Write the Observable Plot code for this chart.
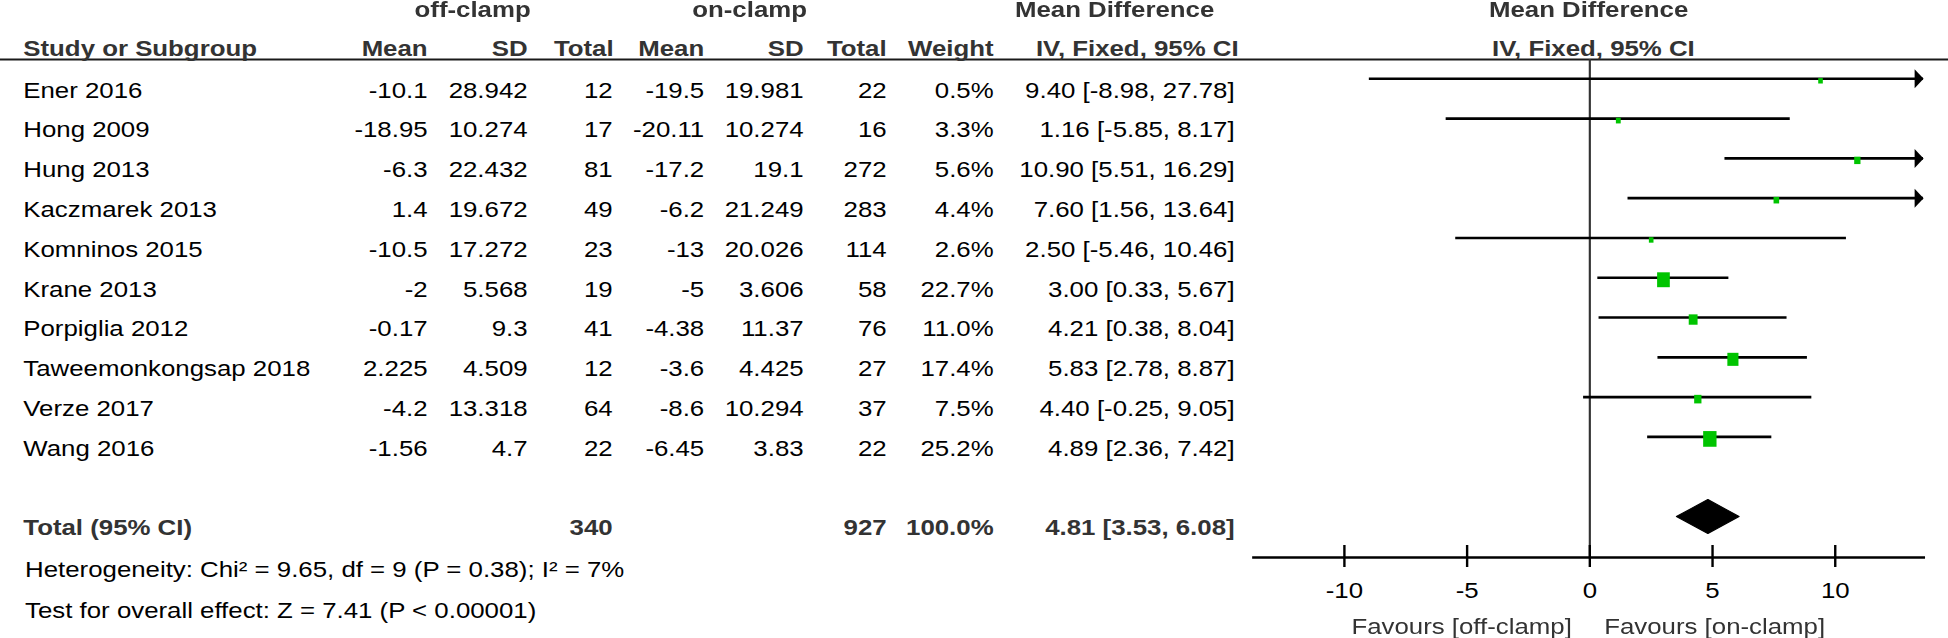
<!DOCTYPE html>
<html>
<head>
<meta charset="utf-8">
<script src="https://cdn.jsdelivr.net/npm/d3@7"></script>
<script src="https://cdn.jsdelivr.net/npm/@observablehq/plot@0.6"></script>
<style>
  html, body { margin: 0; padding: 0; background: #fff; }
  #chart { width: 1623px; height: 638px; transform-origin: 0 0; }
</style>
</head>
<body>
<div id="chart"></div>
<script>
// ---------- data ----------
const studies = ["Ener 2016", "Hong 2009", "Hung 2013", "Kaczmarek 2013", "Komninos 2015",
  "Krane 2013", "Porpiglia 2012", "Taweemonkongsap 2018", "Verze 2017", "Wang 2016"];
const offMean = [-10.1, -18.95, -6.3, 1.4, -10.5, -2, -0.17, 2.225, -4.2, -1.56];
const offSD = [28.942, 10.274, 22.432, 19.672, 17.272, 5.568, 9.3, 4.509, 13.318, 4.7];
const offN = [12, 17, 81, 49, 23, 19, 41, 12, 64, 22];
const onMean = [-19.5, -20.11, -17.2, -6.2, -13, -5, -4.38, -3.6, -8.6, -6.45];
const onSD = [19.981, 10.274, 19.1, 21.249, 20.026, 3.606, 11.37, 4.425, 10.294, 3.83];
const onN = [22, 16, 272, 283, 114, 58, 76, 27, 37, 22];
const weight = [0.5, 3.3, 5.6, 4.4, 2.6, 22.7, 11.0, 17.4, 7.5, 25.2];
const md = [9.40, 1.16, 10.90, 7.60, 2.50, 3.00, 4.21, 5.83, 4.40, 4.89];
const ciLo = [-8.98, -5.85, 5.51, 1.56, -5.46, 0.33, 0.38, 2.78, -0.25, 2.36];
const ciHi = [27.78, 8.17, 16.29, 13.64, 10.46, 5.67, 8.04, 8.87, 9.05, 7.42];

const totalLabel = "Total (95% CI)";
const totalOffN = 340;
const totalOnN = 927;
const totalWeight = 100.0;
const totalMD = 4.81, totalLo = 3.53, totalHi = 6.08;

const heterogeneity = "Heterogeneity: Chi\u00B2 = 9.65, df = 9 (P = 0.38); I\u00B2 = 7%";
const overallTest = "Test for overall effect: Z = 7.41 (P < 0.00001)";
const groupHeaders = ["off-clamp", "on-clamp", "Mean Difference"];
const columnHeaders = ["Study or Subgroup", "Mean", "SD", "Total", "Mean", "SD", "Total", "Weight", "IV, Fixed, 95% CI"];
const plotHeaders = ["Mean Difference", "IV, Fixed, 95% CI"];
const favours = ["Favours [off-clamp]", "Favours [on-clamp]"];
const xTicks = [-10, -5, 0, 5, 10];
const xDomain = [-13.7, 13.6];

// ---------- layout (pixels of the 1948-wide picture) ----------
const W = 1623, H = 638, S = 1948 / W;
document.getElementById("chart").style.transform = `scaleX(${S})`;
const ML = 1253 / S, MR = W - 1923 / S, MT = 59, MB = H - 557;
const dxOf = px => px / S - ML;
const colPx = [22.7, 427, 527, 612, 703.6, 803, 886, 993, 1234];
const headPx = [22.7, 427, 527, 613, 703.6, 803, 886, 993, 1238];
const groupPx = [472, 749, 1114];
const TXT_DY = 12;
const hdrColor = "#333";
const green = "#00c400";

const rows = studies.map((study, i) => ({
  i, study, offMean: offMean[i], offSD: offSD[i], offN: offN[i],
  onMean: onMean[i], onSD: onSD[i], onN: onN[i], weight: weight[i],
  md: md[i], lo: ciLo[i], hi: ciHi[i]
}));
const totalIndex = studies.length + 1;
const fmtCI = (m, l, h) => `${m.toFixed(2)} [${l.toFixed(2)}, ${h.toFixed(2)}]`;

const cellGetters = [
  d => d.study, d => String(d.offMean), d => String(d.offSD), d => String(d.offN),
  d => String(d.onMean), d => String(d.onSD), d => String(d.onN),
  d => d.weight.toFixed(1) + "%", d => fmtCI(d.md, d.lo, d.hi)
];

const boxSymbol = {
  draw(ctx, size) {
    const r = Math.sqrt(size / Math.PI), w = r * 0.71;
    ctx.moveTo(-w, -r); ctx.lineTo(w, -r); ctx.lineTo(w, r); ctx.lineTo(-w, r); ctx.closePath();
  }
};
const arrowSymbol = {
  draw(ctx) {
    ctx.moveTo(0, 0); ctx.lineTo(-7.5, -9.5); ctx.lineTo(-7.5, 9.5); ctx.closePath();
  }
};

const diamond = [[totalLo, 0], [totalMD, -1], [totalHi, 0], [totalMD, 1], [totalLo, 0]]
  .map(([x, k]) => ({x, y: totalIndex + k * 0.427}));

// ---------- marks ----------
const marks = [];
// header rule (full width) and axis line
marks.push(Plot.frame({anchor: "top", insetLeft: -ML, insetRight: -MR, stroke: "#1a1a1a", strokeWidth: 2}));
marks.push(Plot.ruleX([0], {stroke: "#333", strokeWidth: 1.8}));
marks.push(Plot.frame({anchor: "bottom", stroke: "#000", strokeWidth: 2.4}));
marks.push(Plot.ruleX(xTicks, {insetTop: 545 - MT, stroke: "#000", strokeWidth: 2}));
marks.push(Plot.axisX({ticks: xTicks, tickSize: 10, tickPadding: 15, strokeWidth: 2,
  tickFormat: d => String(d), fill: "#000"}));

// CI lines, markers, arrows, diamond
marks.push(Plot.ruleY(rows, {y: "i", x1: "lo", x2: "hi", clip: true, stroke: "#000", strokeWidth: 2.6}));
marks.push(Plot.dot(rows, {x: "md", y: "i", r: d => Math.max(d.weight, 3), symbol: boxSymbol,
  fill: green, stroke: "none", dy: 2}));
marks.push(Plot.dot(rows.filter(d => d.hi > xDomain[1]), {x: () => xDomain[1], y: "i",
  symbol: arrowSymbol, fill: "#000", stroke: "none"}));
marks.push(Plot.line(diamond, {x: "x", y: "y", fill: "#000", stroke: "#000", strokeWidth: 1}));

// table cells
cellGetters.forEach((get, c) => {
  marks.push(Plot.text(rows, {y: "i", text: get, frameAnchor: "left", dx: dxOf(colPx[c]), dy: TXT_DY,
    textAnchor: c === 0 ? "start" : "end", lineAnchor: "middle", fill: "#000"}));
});

// total row
const totalCells = [[0, totalLabel], [3, String(totalOffN)], [6, String(totalOnN)],
  [7, totalWeight.toFixed(1) + "%"], [8, fmtCI(totalMD, totalLo, totalHi)]];
totalCells.forEach(([c, t]) => {
  marks.push(Plot.text([t], {y: () => totalIndex, text: d => d, frameAnchor: "left", dx: dxOf(colPx[c]), dy: TXT_DY,
    textAnchor: c === 0 ? "start" : "end", lineAnchor: "middle", fontWeight: "bold", fill: hdrColor}));
});

// headers
groupHeaders.forEach((t, g) => {
  marks.push(Plot.text([t], {text: d => d, frameAnchor: "top-left", dx: dxOf(groupPx[g]), dy: 10 - MT,
    textAnchor: "middle", lineAnchor: "middle", fontWeight: "bold", fill: hdrColor}));
});
columnHeaders.forEach((t, c) => {
  marks.push(Plot.text([t], {text: d => d, frameAnchor: "top-left", dx: dxOf(headPx[c]), dy: 48.5 - MT,
    textAnchor: c === 0 ? "start" : "end", lineAnchor: "middle", fontWeight: "bold", fill: hdrColor}));
});
marks.push(Plot.text([plotHeaders[0]], {text: d => d, frameAnchor: "top", dy: 10 - MT,
  lineAnchor: "middle", fontWeight: "bold", fill: hdrColor}));
marks.push(Plot.text([plotHeaders[1]], {text: d => d, frameAnchor: "top", dy: 48.5 - MT, dx: 4,
  lineAnchor: "middle", fontWeight: "bold", fill: hdrColor}));

// footer
marks.push(Plot.text([heterogeneity], {text: d => d, frameAnchor: "bottom-left", dx: dxOf(24.5), dy: 570 - 557,
  textAnchor: "start", lineAnchor: "middle", fill: "#000"}));
marks.push(Plot.text([overallTest], {text: d => d, frameAnchor: "bottom-left", dx: dxOf(24.5), dy: 611 - 557,
  textAnchor: "start", lineAnchor: "middle", fill: "#000"}));
marks.push(Plot.text([{t: favours[0], x: 0}], {x: "x", text: "t", frameAnchor: "bottom", dx: -15, dy: 627 - 557,
  textAnchor: "end", lineAnchor: "middle", fill: hdrColor}));
marks.push(Plot.text([{t: favours[1], x: 0}], {x: "x", text: "t", frameAnchor: "bottom", dx: 12, dy: 627 - 557,
  textAnchor: "start", lineAnchor: "middle", fill: hdrColor}));

const chart = Plot.plot({
  width: W, height: H,
  marginLeft: ML, marginRight: MR, marginTop: MT, marginBottom: MB,
  style: {fontSize: "21.5px", fontFamily: "'Liberation Sans', Arial, sans-serif", background: "#fff", color: "#000", overflow: "visible"},
  x: {domain: xDomain, label: null},
  y: {domain: [0, totalIndex], range: [78.3, 516], axis: null},
  r: {type: "sqrt", domain: [0, 25.2], range: [0, 7.85]},
  marks
});
document.getElementById("chart").appendChild(chart);
</script>
</body>
</html>
